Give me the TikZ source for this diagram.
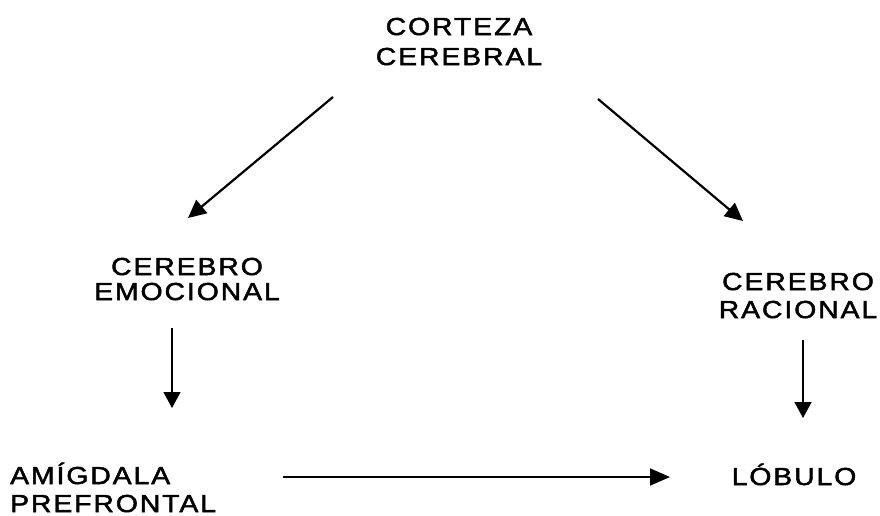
\documentclass[tikz,border=0pt]{standalone}
\usepackage{fontspec}
\setmainfont{Liberation Sans}[LetterSpace=8,FakeStretch=1.15,FakeBold=2]
\usetikzlibrary{arrows.meta}
\tikzset{
  lbl/.style={inner sep=0pt, anchor=base, align=center},
  lblL/.style={inner sep=0pt, anchor=base west, align=left},
  fnt/.style={font=\fontsize{24.6}{#1}\selectfont},
  diag/.style={line width=2.2pt, -{Triangle[length=18pt,width=17pt]}},
  vert/.style={line width=1.4pt, -{Triangle[length=16pt,width=17pt]}},
  horiz/.style={line width=1.6pt, -{Triangle[length=20pt,width=17pt]}}
}
\begin{document}
\begin{tikzpicture}[x=1pt,y=-1pt]
\useasboundingbox (0,0) rectangle (880,515);
\node[lbl,fnt=30] (top) at (459,65) {CORTEZA\\CEREBRAL};
\node[lbl,fnt=25] (emo) at (187,300) {CEREBRO\\EMOCIONAL};
\node[lbl,fnt=28] (rac) at (798,318) {CEREBRO\\RACIONAL};
\node[lblL,fnt=28] (amig) at (10,512) {AMÍGDALA\\PREFRONTAL};
\node[lbl,fnt=28] (lob) at (794,485) {LÓBULO};
\draw[diag] ([shift={(-126,32)}]top.base) -- ([shift={(1,-82)}]emo.base);
\draw[diag] ([shift={(139,34)}]top.base) -- ([shift={(-55,-97)}]rac.base);
\draw[vert] ([shift={(-15,28)}]emo.base) -- ([shift={(162,-104)}]amig.base west);
\draw[vert] ([shift={(5,22)}]rac.base) -- ([shift={(9,-67)}]lob.base);
\draw[horiz] ([shift={(273,-35)}]amig.base west) -- ([shift={(-124,-8)}]lob.base);
\end{tikzpicture}
\end{document}
